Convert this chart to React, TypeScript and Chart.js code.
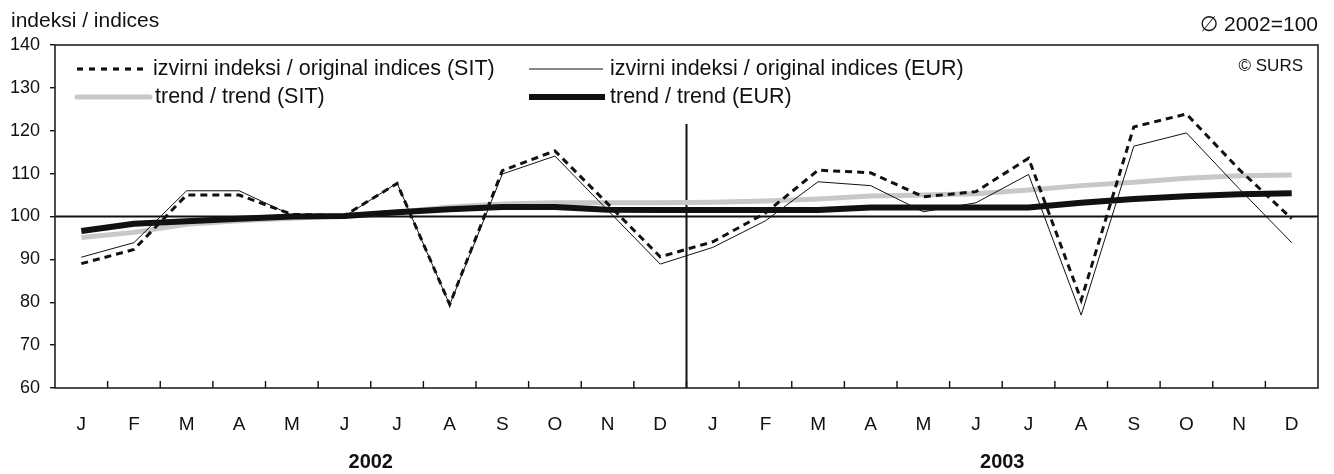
import React, { useEffect, useRef } from 'react';
import { Chart, registerables } from 'chart.js';

Chart.register(...registerables);

const FONT = '"Liberation Sans", Arial, Helvetica, sans-serif';

const MONTHS = ['J', 'F', 'M', 'A', 'M', 'J', 'J', 'A', 'S', 'O', 'N', 'D', 'J', 'F', 'M', 'A', 'M', 'J', 'J', 'A', 'S', 'O', 'N', 'D'];
const YEARS = ['2002', '2003'];

const origSIT = [89, 92.3, 105, 105, 100.5, 100.2, 107.7, 79.5, 110.7, 115.3, 103, 90.6, 94.1, 100.8, 110.8, 110.2, 104.6, 105.8, 113.6, 80.5, 120.9, 123.9, 111, 99.5];
const origEUR = [90.5, 93.9, 106, 106, 100.3, 100, 107.8, 79.4, 109.9, 114.1, 101.5, 88.9, 92.8, 99, 108.1, 107.2, 101.1, 103.2, 109.8, 77, 116.4, 119.5, 106.5, 93.9];
const trendSIT = [95.1, 96.3, 98.2, 99, 99.6, 100.2, 101, 102.2, 102.9, 103.2, 103.2, 103.2, 103.3, 103.6, 104.1, 104.8, 105, 105.3, 106.2, 107.2, 108, 108.9, 109.5, 109.7];
const trendEUR = [96.6, 98.3, 98.9, 99.5, 100, 100.1, 101, 101.7, 102.2, 102.2, 101.6, 101.5, 101.5, 101.5, 101.5, 102.1, 102.1, 102.1, 102.1, 103.2, 104.1, 104.7, 105.2, 105.4];

const LEGEND_SIT = 'izvirni indeksi / original indices (SIT)';
const LEGEND_EUR = 'izvirni indeksi / original indices (EUR)';
const LEGEND_TSIT = 'trend / trend (SIT)';
const LEGEND_TEUR = 'trend / trend (EUR)';
const Y_TITLE = 'indeksi / indices';
const BASE_NOTE = '\u2205 2002=100';
const SOURCE = '\u00A9 SURS';
const REF_VALUE = 100;
const DIVIDER_TOP = 121.6;

const decor = {
  id: 'decor',
  beforeDatasetsDraw(chart: any) {
    const { ctx, chartArea: a, scales } = chart;
    const x = scales.x;
    const y = scales.y;
    ctx.save();
    ctx.strokeStyle = '#111';
    ctx.lineWidth = 1.8;
    const y100 = y.getPixelForValue(REF_VALUE);
    ctx.beginPath();
    ctx.moveTo(a.left, y100);
    ctx.lineTo(a.right, y100);
    ctx.stroke();
    const xd = (x.getPixelForValue(11) + x.getPixelForValue(12)) / 2;
    ctx.lineWidth = 2;
    ctx.beginPath();
    ctx.moveTo(xd, y.getPixelForValue(DIVIDER_TOP));
    ctx.lineTo(xd, a.bottom);
    ctx.stroke();
    ctx.restore();
  },
  afterDraw(chart: any) {
    const { ctx, chartArea: a, scales } = chart;
    const x = scales.x;
    ctx.save();
    ctx.strokeStyle = '#222';
    ctx.lineWidth = 1.6;
    ctx.strokeRect(a.left, a.top, a.right - a.left, a.bottom - a.top);
    ctx.lineWidth = 1.4;
    ctx.strokeStyle = '#111';
    for (let i = 1; i < MONTHS.length; i++) {
      const xp = (x.getPixelForValue(i - 1) + x.getPixelForValue(i)) / 2;
      ctx.beginPath();
      ctx.moveTo(xp, a.bottom);
      ctx.lineTo(xp, a.bottom - 7);
      ctx.stroke();
    }
    ctx.fillStyle = '#111';
    ctx.font = `bold 20px ${FONT}`;
    ctx.textAlign = 'center';
    ctx.textBaseline = 'middle';
    YEARS.forEach((yr, k) => {
      const xp = (x.getPixelForValue(k * 12 + 5) + x.getPixelForValue(k * 12 + 6)) / 2;
      ctx.fillText(yr, xp, 462);
    });
    ctx.font = `21px ${FONT}`;
    ctx.textAlign = 'left';
    ctx.fillText(Y_TITLE, 11, 21);
    ctx.textAlign = 'right';
    ctx.fillText(BASE_NOTE, 1318, 25);
    ctx.font = `17px ${FONT}`;
    ctx.fillText(SOURCE, 1303, 66);
    const r1 = 69;
    const r2 = 97;
    ctx.lineCap = 'butt';
    ctx.strokeStyle = '#111';
    ctx.lineWidth = 3.2;
    ctx.setLineDash([6, 6]);
    ctx.beginPath();
    ctx.moveTo(77, r1);
    ctx.lineTo(148, r1);
    ctx.stroke();
    ctx.setLineDash([]);
    ctx.lineWidth = 1;
    ctx.beginPath();
    ctx.moveTo(529, r1);
    ctx.lineTo(603, r1);
    ctx.stroke();
    ctx.lineCap = 'round';
    ctx.strokeStyle = '#c8c8c8';
    ctx.lineWidth = 5;
    ctx.beginPath();
    ctx.moveTo(77, r2);
    ctx.lineTo(150, r2);
    ctx.stroke();
    ctx.lineCap = 'butt';
    ctx.strokeStyle = '#111';
    ctx.lineWidth = 6;
    ctx.beginPath();
    ctx.moveTo(529, r2);
    ctx.lineTo(605, r2);
    ctx.stroke();
    ctx.font = `21.5px ${FONT}`;
    ctx.textAlign = 'left';
    ctx.fillStyle = '#111';
    ctx.fillText(LEGEND_SIT, 153, r1);
    ctx.fillText(LEGEND_EUR, 610, r1);
    ctx.fillText(LEGEND_TSIT, 155, r2);
    ctx.fillText(LEGEND_TEUR, 610, r2);
    ctx.restore();
  },
};

export default function App() {
  const ref = useRef<HTMLCanvasElement>(null);
  useEffect(() => {
    document.body.style.margin = '0';
    const chart = new Chart(ref.current as HTMLCanvasElement, {
      type: 'line',
      data: {
        labels: MONTHS,
        datasets: [
          { label: LEGEND_SIT, data: origSIT, borderColor: '#111', borderWidth: 3, borderDash: [7, 5], pointRadius: 0, tension: 0, fill: false, order: 1 },
          { label: LEGEND_EUR, data: origEUR, borderColor: '#111', borderWidth: 1, pointRadius: 0, tension: 0, fill: false, order: 2 },
          { label: LEGEND_TEUR, data: trendEUR, borderColor: '#111', borderWidth: 6, pointRadius: 0, tension: 0, fill: false, order: 3 },
          { label: LEGEND_TSIT, data: trendSIT, borderColor: '#c8c8c8', borderWidth: 5, pointRadius: 0, tension: 0, fill: false, order: 4 },
        ],
      },
      options: {
        responsive: false,
        animation: false,
        events: [],
        layout: { padding: { top: 45, right: 16, left: 0, bottom: 0 } },
        plugins: { legend: { display: false }, tooltip: { enabled: false } },
        scales: {
          x: {
            offset: true,
            grid: { display: false },
            border: { display: false },
            ticks: { color: '#111', font: { family: FONT, size: 19 }, padding: 17, maxRotation: 0, autoSkip: false },
            afterFit: (s: any) => { s.height = 86; },
          },
          y: {
            min: 60,
            max: 140,
            ticks: { stepSize: 10, color: '#111', font: { family: FONT, size: 18 }, padding: 10 },
            grid: { drawOnChartArea: false, drawTicks: true, tickLength: 5, color: '#111', lineWidth: 1.4 },
            border: { display: false },
            afterFit: (s: any) => { s.width = 55; },
          },
        },
      },
      plugins: [decor],
    });
    return () => chart.destroy();
  }, []);
  return (
    <div style={{ width: 1334, height: 474 }}>
      <canvas ref={ref} width={1334} height={474} style={{ display: 'block' }} />
    </div>
  );
}
